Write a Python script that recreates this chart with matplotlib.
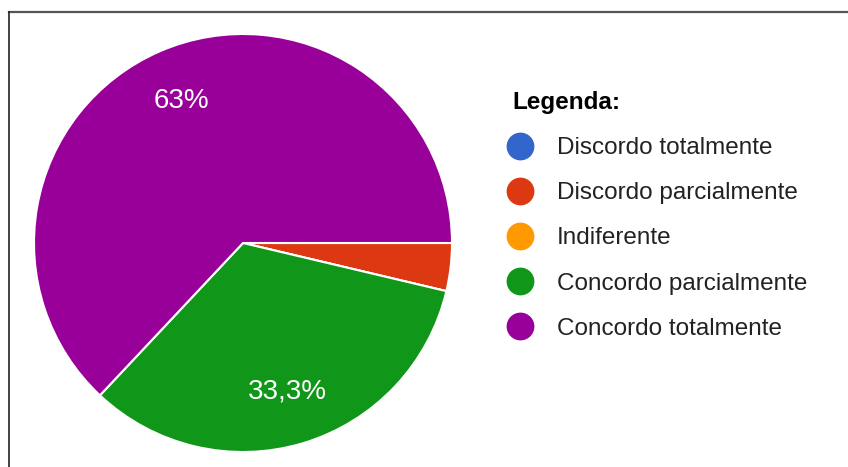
import matplotlib
matplotlib.use("Agg")
import matplotlib.pyplot as plt
from matplotlib.lines import Line2D

plt.rcParams['font.family'] = ['Liberation Sans', 'DejaVu Sans']

categorias = ["Discordo totalmente", "Discordo parcialmente", "Indiferente",
              "Concordo parcialmente", "Concordo totalmente"]
percentuais = [0, 3.7, 0, 33.3, 63]
cores = ["#3366cc", "#dc3912", "#ff9900", "#109618", "#990099"]


def fmt_pct(p):
    if p < 5:
        return ""
    s = ("%.1f" % p).replace(".", ",")
    if s.endswith(",0"):
        s = s[:-2]
    return s + "%"


W, H = 848, 467
fig = plt.figure(figsize=(W / 100, H / 100), dpi=100)

# moldura (só as bordas superior e esquerda aparecem)
fig.add_artist(Line2D([8.5 / W, 1.0], [1 - 11.5 / H, 1 - 11.5 / H], color="#555555", lw=1.6))
fig.add_artist(Line2D([8.5 / W, 8.5 / W], [0, 1 - 11.5 / H], color="#222222", lw=1.2))

cx, cy, r = 243, 243, 209
ax = fig.add_axes([(cx - r) / W, (H - cy - r) / H, 2 * r / W, 2 * r / H])
wedges, textos, autotextos = ax.pie(
    percentuais, colors=cores, startangle=0, counterclock=False,
    autopct=fmt_pct, pctdistance=0.74, radius=1,
    wedgeprops=dict(edgecolor="white", linewidth=1.5),
    textprops=dict(color="white", fontsize=20))
ax.set_xlim(-1, 1)
ax.set_ylim(-1, 1)
ax.set_aspect("equal")
ax.axis("off")

handles = [Line2D([], [], marker="o", linestyle="", markersize=19,
                  markerfacecolor=c, markeredgecolor=c) for c in cores]
leg = fig.legend(handles, categorias, loc="upper left",
                 bbox_to_anchor=(500 / W, 1 - 79 / H), frameon=False,
                 title="Legenda:", alignment="left", fontsize=17.5,
                 title_fontproperties=dict(weight="bold", size=17.5),
                 labelspacing=0.95, handletextpad=1.21, handlelength=0.62,
                 borderpad=0)
for t in leg.get_texts():
    t.set_color("#222222")

fig.savefig("out.png", dpi=100)
